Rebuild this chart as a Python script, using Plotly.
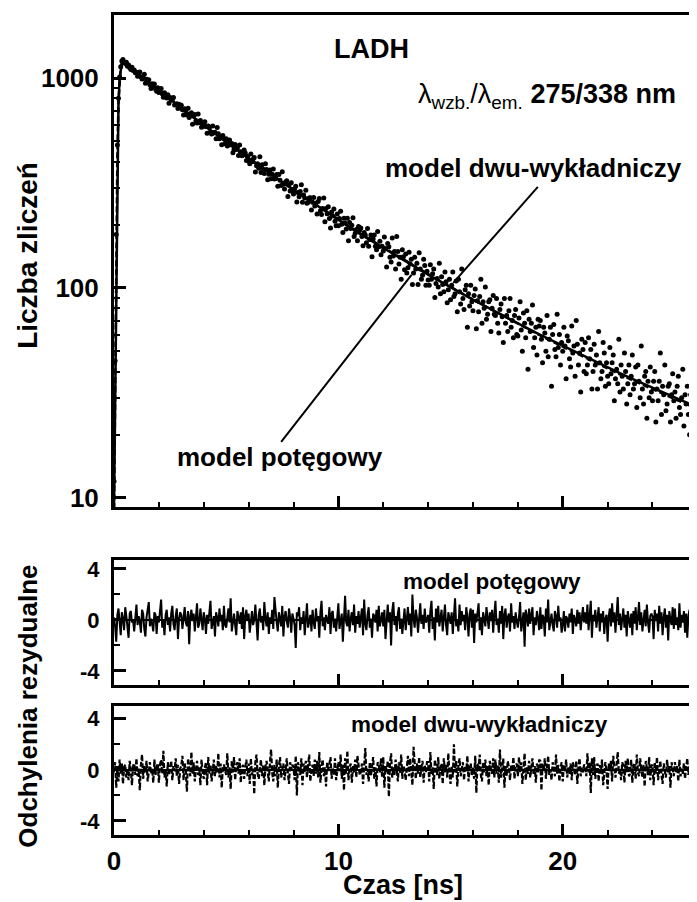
import numpy as np
import plotly.graph_objects as go

FONT = "Liberation Sans, Arial, sans-serif"

# ---------------- data: fluorescence decay (counts per 0.05 ns channel) ----------------
counts = [
    12, 45, 180, 480, 800, 1010, 1130, 1205, 1225, 1185, 1172, 1190, 1138, 1152, 1120, 1098, 1125, 1085, 1092, 1060,
    1066, 1018, 1060, 1069, 1010, 988, 1004, 1042, 944, 985, 959, 981, 928, 892, 940, 917, 937, 887, 865, 899,
    853, 871, 891, 841, 810, 851, 828, 804, 832, 759, 807, 783, 788, 807, 743, 747, 753, 715, 749, 735,
    741, 705, 667, 713, 699, 667, 718, 648, 668, 683, 602, 658, 670, 626, 611, 673, 612, 628, 582, 605,
    589, 619, 587, 545, 591, 581, 554, 541, 591, 547, 552, 514, 581, 542, 513, 524, 481, 532, 514, 486,
    513, 474, 480, 507, 481, 487, 441, 457, 482, 457, 464, 427, 479, 446, 426, 430, 454, 439, 405, 423,
    403, 391, 435, 399, 410, 418, 357, 382, 390, 372, 422, 355, 386, 368, 351, 391, 367, 328, 348, 365,
    331, 348, 369, 330, 332, 347, 305, 347, 326, 308, 358, 312, 296, 320, 324, 273, 309, 290, 317, 293,
    280, 297, 305, 257, 285, 272, 288, 310, 256, 277, 268, 292, 253, 256, 268, 269, 235, 256, 270, 246,
    253, 225, 258, 267, 233, 224, 239, 268, 207, 239, 226, 244, 214, 193, 230, 220, 238, 208, 198, 225,
    198, 214, 232, 201, 184, 215, 204, 191, 215, 168, 205, 192, 199, 216, 176, 182, 190, 168, 196, 189,
    193, 176, 159, 184, 179, 164, 192, 158, 170, 179, 141, 171, 179, 158, 152, 186, 157, 167, 144, 158,
    150, 175, 154, 126, 163, 157, 140, 133, 173, 142, 149, 123, 176, 149, 130, 140, 110, 152, 141, 122,
    145, 118, 125, 148, 130, 137, 104, 118, 140, 123, 131, 104, 147, 123, 110, 115, 137, 128, 103, 120,
    109, 103, 129, 110, 117, 123, 90, 105, 111, 101, 131, 94, 113, 104, 96, 119, 107, 85, 98, 110,
    88, 103, 119, 91, 94, 108, 77, 110, 96, 84, 123, 89, 79, 98, 103, 65, 94, 82, 103, 86,
    78, 92, 99, 64, 87, 77, 91, 110, 68, 86, 80, 101, 71, 75, 86, 88, 62, 80, 92, 75,
    74, 89, 68, 61, 79, 84, 73, 55, 89, 68, 74, 62, 78, 89, 65, 70, 58, 74, 79, 60,
    59, 72, 86, 63, 50, 76, 68, 58, 78, 41, 71, 62, 68, 83, 52, 58, 65, 48, 71, 66,
    70, 57, 44, 65, 61, 50, 74, 47, 57, 65, 34, 60, 67, 51, 47, 75, 52, 60, 43, 55,
    50, 65, 53, 37, 59, 56, 46, 42, 66, 49, 53, 38, 70, 54, 43, 49, 32, 57, 51, 40,
    55, 39, 43, 58, 46, 51, 33, 40, 54, 43, 48, 33, 62, 44, 37, 40, 55, 49, 34, 44,
    38, 35, 52, 39, 44, 48, 29, 37, 41, 35, 57, 32, 43, 38, 33, 49, 40, 28, 35, 43,
    31, 38, 48, 33, 35, 42, 27, 43, 36, 30, 53, 33, 28, 38, 40, 24, 36, 30, 42, 32,
    29, 36, 40, 23, 33, 29, 36, 49, 25, 34, 31, 43, 26, 28, 34, 35, 23, 31, 39, 29,
    32, 24, 34, 38, 27, 25, 30, 41, 22, 31, 28, 34, 25, 20, 31, 13, 35, 25, 23, 32,
]
t_counts = np.round(np.arange(len(counts)) * 0.05, 3)

# ---------------- fitted models ----------------
fit_t = [0.0, 0.05, 0.1, 0.15, 0.2, 0.25, 0.3, 0.35, 0.4] + [round(0.5 * k, 2) for k in range(1, 53)]
fit_power = [9, 30, 140, 420, 760, 1000, 1120, 1175, 1190,
             1170, 1058, 960, 870, 790, 716, 653, 595, 544, 497, 454, 415, 380, 348, 319, 293, 270, 248,
             228, 210, 194, 180, 167, 155, 144, 133.5, 124, 115.7, 108, 100.7, 94, 88, 82.4, 77.1, 72.3,
             67.8, 63.7, 59.8, 56.3, 53.0, 49.9, 47.0, 44.3, 41.8, 39.5, 37.3, 35.3, 33.4, 31.6, 30.0,
             28.5, 27.0]
fit_biexp = [8, 32, 150, 430, 770, 1005, 1125, 1180, 1192,
             1172, 1060, 962, 871, 790, 715, 651, 593, 542, 495, 452, 413, 379, 347, 318, 293, 270, 249,
             229, 211, 195, 181, 168, 156, 145, 134.5, 125, 116.5, 108.5, 101, 94.2, 88, 82.3, 77, 72.1,
             67.5, 63.3, 59.4, 55.8, 52.5, 49.4, 46.5, 43.8, 41.3, 39.0, 36.8, 34.8, 32.9, 31.1, 29.5,
             28.0, 26.6]

# ---------------- weighted residuals (0.05 ns spacing) ----------------
res_power = [
    0.2, -0.5, -1.7, 0.4, 0.9, -0.3, -1.2, 0.6, 0.1, -0.8, 1.0, 0.3, -0.6, -1.4, 0.5, 0.7, -0.2, 0.0, -0.9, 0.6,
    1.2, -0.4, 0.3, -0.1, -1.0, 0.8, 0.5, -0.7, -1.3, 0.2, 0.9, 1.4, -0.5, 0.1, -0.3, -0.9, 0.6, 0.4, -1.1, 0.3,
    -0.2, 0.7, 1.6, -0.6, 0.0, -1.2, 0.4, 0.8, -0.4, 0.2, -0.9, 0.5, 1.1, -0.3, -0.8, 0.3, 0.9, -1.5, 0.1, 0.6,
    0.4, -0.7, 0.2, 1.0, -0.2, -0.5, 0.7, -1.9, 0.3, 0.8, -0.1, 0.5, -0.9, 0.2, 1.3, -0.6, -0.3, 0.9, 0.0, -0.8,
    0.6, 0.1, -1.1, 0.4, -0.3, 0.8, 1.5, -0.7, -0.2, 0.3, -1.3, 0.6, 0.2, -0.5, 0.9, -0.1, 0.4, -0.8, 1.1, -0.4,
    -0.6, 0.3, 0.9, -0.2, 1.7, -0.9, 0.1, 0.5, -0.4, -1.2, 0.7, 0.2, -0.3, 0.6, -0.7, 1.0, -1.5, 0.3, 0.8, -0.1,
    0.5, -1.0, 0.2, 0.7, -0.4, 0.0, 1.2, -0.6, -1.6, 0.4, 0.9, -0.2, 0.3, -0.8, 1.4, 0.1, -0.5, 0.6, -1.1, 0.2,
    -0.3, 0.8, -0.7, 1.8, 0.4, -0.2, -0.9, 0.6, 0.1, -0.5, 1.1, -1.3, 0.3, 0.7, -0.1, -0.6, 0.9, 0.2, -1.0, 0.5,
    0.1, -0.4, -2.2, 0.6, 0.3, 1.0, -0.8, 0.2, -0.3, 0.7, -1.2, 0.5, 1.3, -0.6, 0.0, 0.4, -0.9, 0.8, -0.2, -0.7,
    0.9, -0.1, 0.3, -1.4, 0.6, 1.5, -0.5, 0.2, -0.8, 0.4, 0.0, -0.3, 1.0, -1.1, 0.5, 0.7, -0.6, 0.1, -0.9, 0.3,
    1.3, -0.7, 0.2, 0.5, -1.7, 0.4, 1.9, -0.2, -0.5, 0.8, -0.9, 0.1, 0.6, -0.4, 1.2, -1.0, 0.3, -0.3, 0.7, -0.6,
    0.2, 0.9, -1.2, 1.6, -0.3, -0.8, 0.4, 1.0, -0.6, 0.1, -1.4, 0.5, 0.3, -0.2, 0.8, -0.9, 1.1, -0.5, 0.0, 0.6,
    -0.5, 0.8, -1.5, 0.2, 1.2, -0.2, 0.6, -2.0, 0.7, 1.4, -0.4, 0.3, -0.9, 0.5, 1.0, -0.7, 0.1, -1.1, 0.4, 0.9,
    -0.8, 0.3, 1.0, -0.4, 0.5, -1.3, 2.0, 0.1, -0.6, 0.8, 0.2, -1.0, 0.6, 1.3, -0.3, 0.4, -0.7, 0.9, -0.2, 0.0,
    0.4, -1.0, 0.7, 1.5, -0.7, 0.2, -1.6, 0.9, -0.2, 1.1, -0.5, 0.3, 0.8, -0.9, 0.1, 1.2, -0.4, -1.2, 0.6, 0.2,
    -0.3, 0.6, -1.1, 0.3, 1.7, -0.5, 0.0, -0.9, 1.2, -0.4, 0.7, -0.1, 0.4, -0.8, 1.0, 0.2, -1.3, 0.5, 0.9, -0.6,
    0.8, -1.8, 0.5, -0.2, 0.9, 1.3, -0.8, 0.2, -1.2, 0.6, 0.1, -0.5, 1.0, 0.3, -0.7, 0.6, -0.1, 0.8, -1.0, 0.4,
    1.5, -0.4, 0.1, -1.0, 0.7, -0.3, 1.1, -1.5, 0.4, 0.9, -0.6, 0.2, 0.5, -0.9, 1.3, -0.2, 0.3, -0.7, 0.6, -0.1,
    -0.6, 0.2, 1.4, -0.9, -0.1, 0.6, -2.1, 0.8, 0.3, -0.5, 0.9, -0.3, 0.4, 1.0, -1.2, 0.2, -0.4, 0.7, 0.1, -0.8,
    1.0, -0.7, 0.4, 0.2, -1.3, 0.9, -0.2, 1.6, -0.8, 0.1, 0.5, -0.4, -0.9, 0.7, 0.3, -0.6, 1.1, -0.1, 0.2, -1.0,
    -0.4, 0.7, -0.9, 0.3, 0.1, -0.6, 0.5, -0.2, 0.9, -1.1, 0.4, 0.0, -0.5, 0.8, -0.3, 0.6, -0.8, 0.2, 1.0, -0.2,
    0.6, -0.3, 1.2, -0.8, 0.2, 1.5, -1.4, 0.4, -0.1, 0.8, -0.6, 0.3, 1.0, -0.9, 0.5, -0.2, 0.7, -1.1, 0.1, 0.4,
    -1.7, 0.3, 0.9, -0.5, 1.3, -0.2, 0.6, -1.0, 0.1, 1.8, -0.4, 0.5, -0.8, 0.2, 0.9, -0.6, 0.4, -1.3, 0.7, 0.0,
    -0.6, 0.5, -1.2, 0.7, -0.3, 1.0, -0.8, 0.2, 1.4, -0.4, 0.6, -0.9, 0.1, 0.8, -0.5, 1.2, -0.2, -1.0, 0.3, 0.5,
    0.3, -1.5, 0.8, -0.1, 0.5, -0.9, 1.1, -0.3, 0.6, -1.2, 0.2, 0.9, -0.6, 0.4, -1.6, 0.7, 0.0, -0.4, 1.0, -0.7,
    0.9, -0.4, 0.2, -0.8, 1.3, -0.6, 0.4, -0.2, 0.7, -1.0, 0.5, -1.4, 0.3, 0.8, -0.5, 0.1, -0.9, 0.6, -0.3, 0.2,
]
res_biexp = [
    -0.2, 0.6, -1.4, 0.3, -0.9, 0.8, -0.3, 0.5, -1.1, 0.2, 0.4, -0.6, 0.1, -0.8, 0.7, 0.0, -1.2, 0.3, 0.5, -0.4,
    0.9, -0.5, 0.1, -1.6, 0.4, 1.2, -0.7, 0.3, -0.2, 0.7, -0.9, 0.2, 0.6, -0.3, 0.1, -1.0, 0.8, -0.4, 0.3, 0.5,
    -1.0, 0.4, 0.8, -0.3, 1.5, -0.6, 0.0, -1.3, 0.6, -0.4, 0.2, 0.7, -0.8, 0.3, -0.1, 0.9, -0.5, 0.4, -1.1, 0.1,
    0.3, 1.1, -0.8, 0.5, -0.1, -1.7, 0.9, 0.2, -0.5, 1.4, -0.3, 0.6, -0.9, 0.0, 0.7, -0.4, 0.2, -1.2, 0.8, -0.2,
    -0.7, 0.2, 0.6, -1.2, 1.0, -0.3, 0.4, -0.9, 0.1, 0.8, -0.5, 0.3, -0.2, 1.3, -0.6, 0.5, -1.4, 0.2, 0.4, -0.1,
    -0.4, 1.3, -0.6, 0.2, -1.5, 0.7, -0.2, 1.0, -0.8, 0.3, 0.6, -0.3, 0.9, -1.0, 0.1, 0.4, -0.7, 0.2, 0.8, -0.5,
    0.5, -1.1, 0.9, -0.4, 0.1, -1.9, 0.6, 1.2, -0.3, -0.7, 0.2, 0.8, -0.5, 0.4, -1.2, 0.3, 0.7, -0.2, -0.9, 0.6,
    1.6, -0.2, -0.9, 0.4, -0.5, 0.8, -1.4, 0.3, 1.0, -0.6, 0.1, 0.5, -0.8, 0.2, 0.9, -0.3, -1.1, 0.6, 0.0, 0.4,
    0.2, -0.8, 1.1, -2.0, 0.6, 0.0, -0.4, 0.9, -1.2, 0.5, -0.2, 0.7, -0.6, 0.3, 1.2, -0.9, 0.1, 0.4, -0.5, 0.8,
    -0.3, 0.7, -0.6, 1.4, -1.0, 0.3, 0.8, -0.5, 0.2, -1.3, 0.6, -0.1, 0.4, 1.0, -0.7, 0.2, -0.4, 0.9, -0.8, 0.1,
    0.6, -0.1, 1.2, -0.7, 0.4, -1.6, 0.9, -0.3, 1.5, -0.8, 0.2, 0.5, -1.0, 0.3, -0.2, 0.8, -0.6, 1.1, 0.0, -0.4,
    -0.2, 0.5, -1.1, 0.8, 1.7, -0.4, 0.1, -0.9, 0.6, -0.5, 0.3, 1.0, -0.7, 0.2, -1.3, 0.6, 0.4, -0.2, 0.9, -0.6,
    1.0, -1.4, 0.3, -0.2, 0.7, -2.1, 0.5, 1.3, -0.6, 0.2, -0.4, 0.8, 0.1, -0.9, 0.6, -0.3, 1.2, -0.7, 0.3, 0.0,
    -0.8, 0.4, 1.1, -0.5, 0.9, -0.1, -1.2, 1.8, 0.3, -0.7, 0.5, -0.3, 1.0, -0.6, 0.2, 0.7, -1.0, 0.4, -0.2, 0.6,
    0.6, -0.9, 1.4, -0.3, 0.2, -1.5, 0.8, 0.1, -0.4, 1.0, -0.7, 0.3, 0.5, -1.1, 0.9, -0.2, 0.4, -0.6, 1.3, -0.3,
    -1.1, 0.3, -0.6, 2.0, -0.2, 0.7, -1.3, 0.4, 0.9, -0.5, 0.1, 0.6, -0.8, 0.3, -0.1, 1.1, -0.9, 0.2, 0.5, -0.4,
    0.2, -0.7, 1.1, -1.8, 0.5, 0.0, 1.2, -0.4, -0.9, 0.6, -0.2, 0.8, -0.5, 0.3, -1.2, 0.7, 0.1, -0.3, 0.9, -0.6,
    0.8, -0.3, 0.4, -1.0, 1.6, -0.6, 0.1, 0.9, -1.4, 0.3, -0.5, 0.7, 0.2, -0.8, 0.4, -0.1, 1.0, -0.7, 0.3, 0.5,
    -0.5, 1.0, -0.2, 0.6, -1.1, 0.4, 1.3, -0.8, 0.2, -0.3, 0.7, -0.6, 0.1, 0.9, -0.4, 0.3, -1.0, 0.5, -0.2, 0.8,
    0.7, -1.6, 0.5, -0.1, 0.9, -0.7, 0.3, 1.1, -0.4, 0.0, -0.8, 0.6, 0.2, -0.5, 1.2, -0.3, 0.4, -0.9, 0.1, 0.6,
    -0.9, 0.4, -0.2, 0.8, -0.6, 0.2, -0.3, 0.5, -0.8, 0.6, 0.1, -0.4, 0.7, -1.1, 0.3, 0.9, -0.5, 0.2, -0.2, 0.4,
    0.3, -0.5, 1.3, -0.2, 0.6, -1.8, 0.9, -0.4, 1.0, -0.7, 0.2, 0.5, -0.9, 0.4, -0.3, 0.8, -1.2, 0.1, 0.6, -0.1,
    -1.5, 0.5, -0.1, 0.7, -0.9, 1.1, 0.2, -0.6, 0.4, 1.4, -0.3, 0.1, -0.8, 0.6, 0.3, -1.0, 0.7, -0.2, 0.9, -0.5,
    -0.3, 0.8, -1.0, 0.3, 0.5, -0.7, 1.2, -0.2, -0.5, 0.9, 0.1, -0.6, 0.4, -1.3, 0.7, 0.2, -0.4, 1.0, -0.8, 0.3,
    0.4, -1.2, 0.6, -0.3, 1.0, -0.8, 0.2, 0.7, -0.4, -1.1, 0.5, 0.0, -0.6, 0.8, -0.2, 0.3, -1.4, 0.6, 0.1, -0.5,
    0.6, -0.2, 0.3, -0.9, 0.8, -0.5, 0.1, -0.3, 0.5, -0.7, 0.2, 0.9, -0.4, 0.3, -2.0, 0.4, -0.6, 0.7, -0.1, 0.2,
]
t_res = np.round(np.arange(len(res_power)) * 0.05, 3)

# tick labels
x_tickvals = [0, 10, 20]
y_log_tickvals = [10, 100, 1000]
y_log_minor = [20, 30, 40, 50, 60, 70, 80, 90, 200, 300, 400, 500, 600, 700, 800, 900, 2000]
res_tickvals = [-4, 0, 4]
res_ticktext = ["-4", "0", "4"]
res_minor = [-2, 2]

fig = go.Figure()
fig.add_trace(go.Scatter(x=t_counts, y=counts, mode="markers",
                         marker=dict(color="black", size=5, line=dict(width=0)),
                         xaxis="x", yaxis="y", name="dane"))
fig.add_trace(go.Scatter(x=fit_t, y=fit_power, mode="lines",
                         line=dict(color="black", width=2.5),
                         xaxis="x", yaxis="y", name="model potęgowy"))
fig.add_trace(go.Scatter(x=fit_t, y=fit_biexp, mode="lines",
                         line=dict(color="black", width=2.5, dash="6px,3px"),
                         xaxis="x", yaxis="y", name="model dwu-wykładniczy"))
fig.add_trace(go.Scatter(x=t_res, y=res_power, mode="lines",
                         line=dict(color="black", width=2),
                         xaxis="x2", yaxis="y2", name="res pot"))
fig.add_trace(go.Scatter(x=t_res, y=res_biexp, mode="lines",
                         line=dict(color="black", width=2.2, dash="5px,2px"),
                         xaxis="x3", yaxis="y3", name="res dwu"))

XR = [0, 25.85]
tickfont_big = dict(family=FONT, size=26, color="black", weight="bold")
tickfont_res = dict(family=FONT, size=22, color="black", weight="bold")


def xax(anchor, labels):
    return dict(domain=[0, 1], range=XR, anchor=anchor, showline=True, mirror=True,
                linewidth=3, linecolor="black", ticks="inside", ticklen=11, tickwidth=3,
                tickcolor="black", tickmode="array", tickvals=x_tickvals,
                showticklabels=labels, tickfont=tickfont_big, ticklabelstandoff=1,
                minor=dict(ticks="inside", ticklen=5, tickwidth=2, tickcolor="black",
                           dtick=2, tick0=0, showgrid=False),
                showgrid=False, zeroline=False)


def yres(domain, rng, anchor):
    return dict(domain=domain, range=rng, anchor=anchor, showline=True, mirror=True,
                linewidth=3, linecolor="black", ticks="inside", ticklen=12, tickwidth=3,
                tickcolor="black", tickmode="array", tickvals=res_tickvals, ticktext=res_ticktext,
                tickfont=tickfont_res, ticklabelstandoff=7,
                minor=dict(ticks="inside", ticklen=6, tickwidth=2, tickcolor="black",
                           tickmode="array", tickvals=res_minor, showgrid=False),
                showgrid=False, zeroline=True, zerolinecolor="black", zerolinewidth=2)


# page body has an 8px margin, so the figure is offset by 8px in the screenshot
fig.update_layout(
    width=689, height=894,
    margin=dict(l=106, r=0, t=7, b=67),
    paper_bgcolor="white", plot_bgcolor="white",
    showlegend=False,
    font=dict(family=FONT, color="black"),
    xaxis=xax("y", False),
    xaxis2={**xax("y2", False), "matches": "x"},
    xaxis3={**xax("y3", True), "matches": "x"},
    yaxis=dict(domain=[0.4, 1.0], type="log", range=[0.957, 3.3], anchor="x",
               showline=True, mirror=True, linewidth=3, linecolor="black",
               ticks="inside", ticklen=12, tickwidth=3, tickcolor="black",
               tickmode="array", tickvals=y_log_tickvals, ticktext=[str(v) for v in y_log_tickvals],
               tickfont=tickfont_big, ticklabelstandoff=7,
               minor=dict(ticks="inside", ticklen=6, tickwidth=2, tickcolor="black",
                          tickmode="array", tickvals=y_log_minor, showgrid=False),
               showgrid=False, zeroline=False),
    yaxis2=yres([0.1829, 0.3354], [-5.1, 4.7], "x2"),
    yaxis3=yres([0.0, 0.1573], [-5.1, 5.0], "x3"),
)

bold = lambda s: dict(family=FONT, size=s, color="black", weight="bold")
C = dict(xanchor="center", yanchor="middle", showarrow=False)
ann = [
    dict(text="LADH", x=0.444, y=0.931, xref="x domain", yref="y domain", font=bold(27), **C),
    dict(text="λ<sub>wzb.</sub>/λ<sub>em.</sub> <b>275/338 nm</b>", x=0.521, y=0.835,
         xref="x domain", yref="y domain", xanchor="left", yanchor="middle", showarrow=False,
         font=dict(family=FONT, size=27, color="black")),
    dict(text="model dwu-wykładniczy", x=0.724, y=0.689, xref="x domain", yref="y domain",
         font=bold(26), **C),
    dict(text="model potęgowy", x=0.286, y=0.102, xref="x domain", yref="y domain",
         font=bold(26), **C),
    dict(text="model potęgowy", x=0.652, y=0.824, xref="x2 domain", yref="y2 domain",
         font=bold(22.5), **C),
    dict(text="model dwu-wykładniczy", x=0.631, y=0.853, xref="x3 domain", yref="y3 domain",
         font=bold(22.5), **C),
    dict(text="Liczba zliczeń", x=-0.149, y=0.707, xref="paper", yref="paper",
         textangle=-90, font=bold(28), **C),
    dict(text="Odchylenia rezydualne", x=-0.1475, y=0.157, xref="paper", yref="paper",
         textangle=-90, font=bold(26), **C),
    dict(text="Czas [ns]", x=0.499, y=-0.061, xref="paper", yref="paper",
         font=bold(27), **C),
]
fig.update_layout(annotations=ann)

# pointer lines from labels to the fitted curves (data coordinates)
fig.add_shape(type="line", xref="x", yref="y", x0=7.45, y0=18.5, x1=13.26, y1=115.4,
              line=dict(color="black", width=2))
fig.add_shape(type="line", xref="x", yref="y", x0=18.89, y0=303, x1=15.12, y1=105.8,
              line=dict(color="black", width=2))

fig.write_html("out.html")
